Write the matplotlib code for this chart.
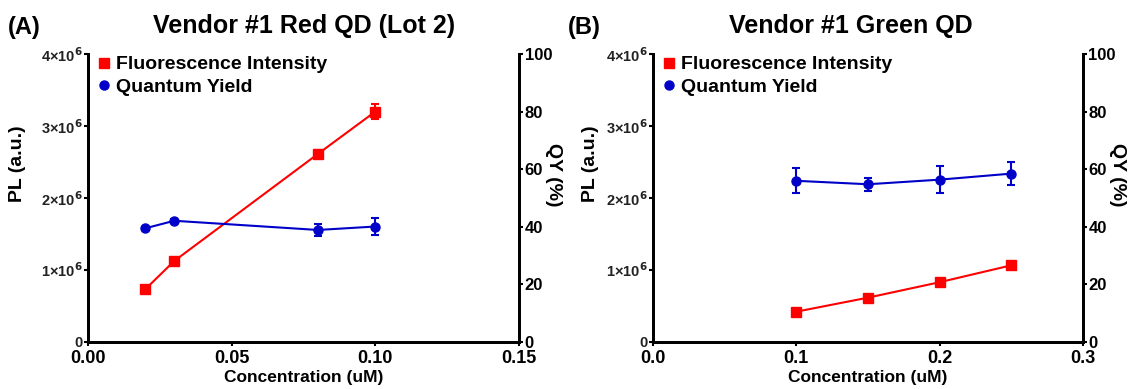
import matplotlib.pyplot as plt
from matplotlib.lines import Line2D

plt.rcParams['font.family'] = ['Liberation Sans', 'DejaVu Sans']
plt.rcParams['font.weight'] = 'bold'
plt.rcParams['mathtext.default'] = 'bf'

RED = '#ff0000'
BLUE = '#0000c8'

# panel A : Vendor #1 Red QD (Lot 2)
conc_a = [0.02, 0.03, 0.08, 0.10]
pl_a = [0.73e6, 1.12e6, 2.61e6, 3.20e6]
pl_err_a = [0.03e6, 0.03e6, 0.06e6, 0.10e6]
qy_a = [39.4, 42.0, 38.8, 40.0]
qy_err_a = [0.5, 0.5, 2.0, 2.9]

# panel B : Vendor #1 Green QD
conc_b = [0.10, 0.15, 0.20, 0.25]
pl_b = [0.415e6, 0.61e6, 0.825e6, 1.06e6]
pl_err_b = [0.02e6, 0.02e6, 0.02e6, 0.02e6]
qy_b = [55.9, 54.7, 56.3, 58.4]
qy_err_b = [4.4, 2.2, 4.8, 4.1]

pl_ticks = [0, 1e6, 2e6, 3e6, 4e6]
pl_labels = ['0', '1×10$^{6}$', '2×10$^{6}$', '3×10$^{6}$', '4×10$^{6}$']
qy_ticks = [0, 20, 40, 60, 80, 100]

fig = plt.figure(figsize=(11.33, 3.89), dpi=100)


def panel(rect, conc, pl, pl_err, qy, qy_err, xlim, xticks, xfmt, title, title_x,
          tag, tag_x, pl_label_x):
    ax = fig.add_axes(rect)
    ax2 = ax.twinx()
    ax.errorbar(conc, pl, yerr=pl_err, color=RED, marker='s', ms=6.5, lw=1.5,
                capsize=3, elinewidth=1.5, capthick=1.5, zorder=3)
    ax2.errorbar(conc, qy, yerr=qy_err, color=BLUE, marker='o', ms=6.5, lw=1.5,
                 capsize=3, elinewidth=1.5, capthick=1.5)
    ax.set_xlim(*xlim)
    ax.set_xticks(xticks)
    ax.set_xticklabels([xfmt.format(v) for v in xticks], fontsize=13, fontweight='bold')
    ax.set_ylim(0, 4e6)
    ax.set_yticks(pl_ticks)
    ax.set_yticklabels(pl_labels, fontsize=10.5, fontweight='bold', color='#222222')
    ax2.set_ylim(0, 100)
    ax2.set_yticks(qy_ticks)
    ax2.set_yticklabels([str(v) for v in qy_ticks], fontsize=12, fontweight='bold')
    ax.set_xlabel('Concentration (uM)', fontsize=12.5, fontweight='bold', labelpad=2)
    ax.set_ylabel('PL (a.u.)', fontsize=14, fontweight='bold')
    ax.yaxis.set_label_coords(pl_label_x, 0.62)
    ax2.set_ylabel('QY (%)', fontsize=14, fontweight='bold', rotation=270, va='center')
    ax2.yaxis.set_label_coords(1.08, 0.58)
    for a in (ax, ax2):
        a.spines['top'].set_visible(False)
        for s in ('left', 'right', 'bottom'):
            a.spines[s].set_linewidth(2)
        a.tick_params(width=1.5, length=3, pad=1)
    ax.tick_params(axis='x', pad=3)
    fig.text(title_x, 0.932, title, fontsize=18, fontweight='bold', ha='center', va='center')
    fig.text(tag_x, 0.93, tag, fontsize=17, fontweight='bold', va='center')
    handles = [Line2D([], [], color=RED, marker='s', ls='none', ms=6.5),
               Line2D([], [], color=BLUE, marker='o', ls='none', ms=6.5)]
    ax.legend(handles, ['Fluorescence Intensity', 'Quantum Yield'], loc='upper left',
              bbox_to_anchor=(-0.025, 1.055), frameon=False, handletextpad=0.1,
              handlelength=1.0, labelspacing=0.25, prop={'size': 14, 'weight': 'bold'})


panel([0.0777, 0.1221, 0.3804, 0.7390], conc_a, pl_a, pl_err_a, qy_a, qy_err_a,
      (0, 0.15), [0, 0.05, 0.10, 0.15], '{:.2f}', 'Vendor #1 Red QD (Lot 2)', 0.2688,
      '(A)', 0.007, -0.145)
panel([0.5763, 0.1221, 0.3795, 0.7390], conc_b, pl_b, pl_err_b, qy_b, qy_err_b,
      (0, 0.3), [0, 0.1, 0.2, 0.3], '{:.1f}', 'Vendor #1 Green QD', 0.7511,
      '(B)', 0.501, -0.126)

fig.savefig('out.png', dpi=100)
